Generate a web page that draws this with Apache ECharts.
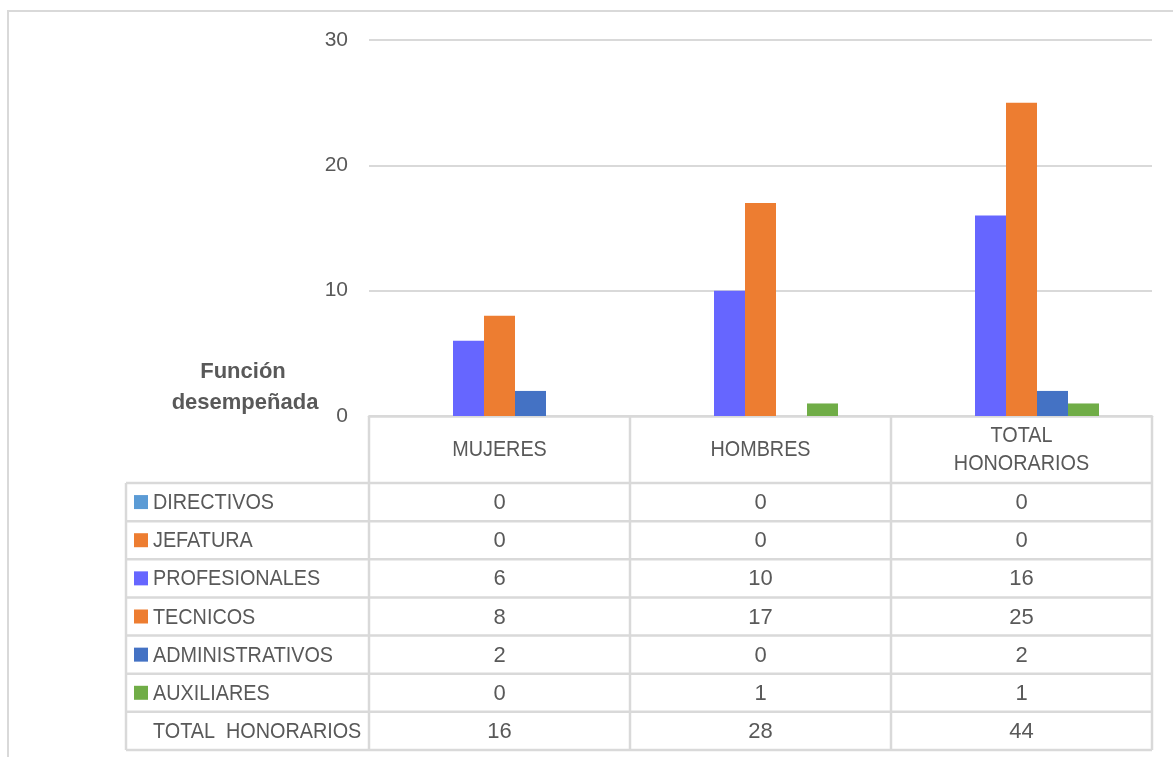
<!DOCTYPE html>
<html>
<head>
<meta charset="utf-8">
<script src="https://cdn.jsdelivr.net/npm/echarts@6/dist/echarts.min.js"></script>
<style>
html,body{margin:0;padding:0;background:#fff;}
#chart{width:1173px;height:757px;}
</style>
</head>
<body>
<div id="chart"></div>
<script>
// ---- data ----
const categories = ['MUJERES', 'HOMBRES', 'TOTAL\nHONORARIOS'];
const seriesNames = ['DIRECTIVOS', 'JEFATURA', 'PROFESIONALES', 'TECNICOS', 'ADMINISTRATIVOS', 'AUXILIARES'];
const directivos = [0, 0, 0];
const jefatura = [0, 0, 0];
const profesionales = [6, 10, 16];
const tecnicos = [8, 17, 25];
const administrativos = [2, 0, 2];
const auxiliares = [0, 1, 1];
const totalName = 'TOTAL  HONORARIOS';
const totalHonorarios = [16, 28, 44];
const yTicks = [0, 10, 20, 30];
const axisTitle = ['Función', 'desempeñada'];

// ---- style ----
const colors = ['#5B9BD5', '#ED7D31', '#6666FF', '#ED7D31', '#4472C4', '#70AD47'];
const textColor = '#595959';
const lineColor = '#d9d9d9';
const FONT = '"Liberation Sans", Arial, sans-serif';

const seriesValues = [directivos, jefatura, profesionales, tecnicos, administrativos, auxiliares];

// layout
const gridLeft = 369, gridRight = 1152, gridTop = 40, gridBottom = 416;
const tableLeft = 126, headerBottom = 483, tableBottom = 750;
const nRows = seriesValues.length + 1;
const rowH = (tableBottom - headerBottom) / nRows;
const catW = (gridRight - gridLeft) / categories.length;
const SX = 0.9;

const chart = echarts.init(document.getElementById('chart'), null, {renderer: 'canvas'});

const series = seriesNames.map((n, i) => ({
  name: n,
  type: 'bar',
  data: seriesValues[i],
  barWidth: 31,
  barGap: '0%',
  itemStyle: {color: colors[i]}
}));
// empty slot reserved for the (unfilled) total series
series.push({name: 'TOTAL HONORARIOS', type: 'bar', data: [], barWidth: 31, barGap: '0%'});

function txt(x, y, s, opts) {
  opts = opts || {};
  return {
    type: 'text', x: x, y: y, scaleX: opts.sx == null ? SX : opts.sx, silent: true,
    style: {
      x: 0, y: 0, text: s, fill: textColor,
      font: (opts.bold ? 'bold ' : '') + (opts.size || 22) + 'px ' + FONT,
      textAlign: opts.align || 'center', align: opts.align || 'center',
      textVerticalAlign: 'middle', verticalAlign: 'middle'
    }
  };
}
function line(x1, y1, x2, y2) {
  return {type: 'line', silent: true, shape: {x1: x1, y1: y1, x2: x2, y2: y2},
    style: {stroke: lineColor, lineWidth: 2.5}};
}

const g = [];
// outer chart border
g.push({type: 'rect', silent: true, shape: {x: 8, y: 11, width: 1200, height: 800},
  style: {fill: 'none', stroke: lineColor, lineWidth: 2}});
// axis title
g.push(txt(243, 372, axisTitle[0], {bold: true, sx: 1}));
g.push(txt(245, 403, axisTitle[1], {bold: true, sx: 1}));
// table lines
for (let r = 0; r <= nRows; r++) {
  const y = headerBottom + r * rowH;
  g.push(line(tableLeft, y, gridRight, y));
}
g.push(line(tableLeft, headerBottom, tableLeft, tableBottom));
for (let c = 0; c <= categories.length; c++) {
  const x = gridLeft + c * catW;
  g.push(line(x, gridBottom, x, tableBottom));
}
// header
categories.forEach((cat, c) => {
  const cx = gridLeft + (c + 0.5) * catW;
  const parts = cat.split('\n');
  const mid = (gridBottom + headerBottom) / 2;
  parts.forEach((p, k) => {
    g.push(txt(cx, mid + (k - (parts.length - 1) / 2) * 28, p));
  });
});
// rows
const rowNames = seriesNames.concat([totalName]);
const rowVals = seriesValues.concat([totalHonorarios]);
rowNames.forEach((n, r) => {
  const cy = headerBottom + (r + 0.5) * rowH;
  if (r < seriesNames.length) {
    g.push({type: 'rect', silent: true, shape: {x: 134, y: cy - 7, width: 14, height: 14},
      style: {fill: colors[r]}});
  }
  g.push(txt(153, cy + 1, n, {align: 'left'}));
  rowVals[r].forEach((v, c) => {
    const cx = gridLeft + (c + 0.5) * catW;
    g.push(txt(cx, cy + 1, String(v), {sx: 1}));
  });
});

chart.setOption({
  animation: false,
  backgroundColor: '#ffffff',
  grid: {left: gridLeft, right: 1173 - gridRight, top: gridTop, bottom: 757 - gridBottom, containLabel: false},
  xAxis: {
    type: 'category',
    data: categories,
    axisLine: {show: true, lineStyle: {color: lineColor, width: 2.5}},
    axisTick: {show: false},
    axisLabel: {show: false}
  },
  yAxis: {
    type: 'value',
    min: yTicks[0],
    max: yTicks[yTicks.length - 1],
    interval: yTicks[1] - yTicks[0],
    axisLine: {show: false},
    axisTick: {show: false},
    splitLine: {lineStyle: {color: lineColor, width: 2}},
    axisLabel: {color: textColor, fontSize: 21, fontFamily: FONT, margin: 21}
  },
  series: series,
  graphic: g
});
</script>
</body>
</html>
